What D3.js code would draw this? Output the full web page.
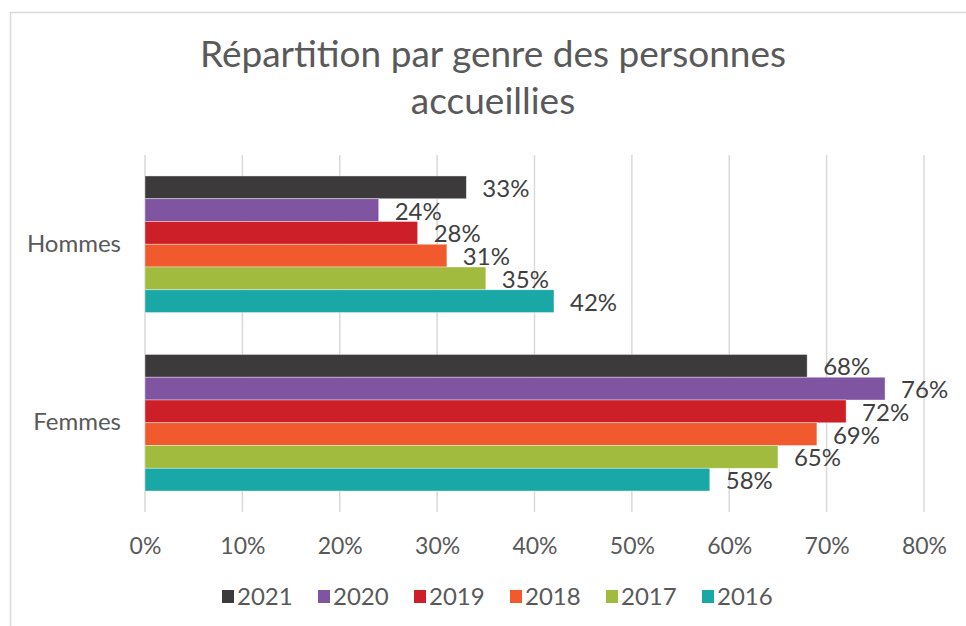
<!DOCTYPE html>
<html>
<head>
<meta charset="utf-8">
<script src="https://cdn.jsdelivr.net/npm/d3@7"></script>
<style>
  body { margin: 0; background: #fff; }
  text { font-family: Lato, "Open Sans", sans-serif; }
</style>
</head>
<body>
<div class="chart"></div>
<script>
// data
var categories = ["Hommes", "Femmes"];
var years = ["2021", "2020", "2019", "2018", "2017", "2016"];
var hommes = [33, 24, 28, 31, 35, 42];
var femmes = [68, 76, 72, 69, 65, 58];
var xTicks = [0, 10, 20, 30, 40, 50, 60, 70, 80];
var colors = ["#3c3a3b", "#7f55a1", "#cc1f27", "#f05a2d", "#a1bb3e", "#1aa8a6"];

var svgWidth = 966;
var svgHeight = 626;

var margin = { top: 155, bottom: 114, left: 145, right: 42 };
var width = svgWidth - margin.left - margin.right;
var height = svgHeight - margin.top - margin.bottom;

var svg = d3.select(".chart")
  .append("svg")
  .attr("width", svgWidth)
  .attr("height", svgHeight);

// chart frame
svg.append("rect")
  .attr("x", 10.5)
  .attr("y", 12.5)
  .attr("width", 1000)
  .attr("height", 700)
  .attr("fill", "none")
  .attr("stroke", "#d9d9d9")
  .attr("stroke-width", 1.5);

// title
var title = svg.append("text")
  .attr("x", 493)
  .attr("text-anchor", "middle")
  .attr("fill", "#595959")
  .attr("font-size", "37px");
title.append("tspan").attr("x", 493).attr("y", 67).text("Répartition par genre des personnes");
title.append("tspan").attr("x", 493).attr("y", 114).text("accueillies");

var chartGroup = svg.append("g")
  .attr("transform", `translate(${margin.left}, ${margin.top})`);

var data = categories.map(function(c, i) {
  var vals = i === 0 ? hommes : femmes;
  return { cat: c, values: years.map(function(y, j) { return { year: y, value: vals[j] }; }) };
});

// scales
var xScale = d3.scaleLinear()
  .domain([0, 80])
  .range([0, width]);

var yScale = d3.scaleBand()
  .domain(categories)
  .range([0, height])
  .paddingInner(0.235)
  .paddingOuter(0.1175);

var ySub = d3.scaleBand()
  .domain(years)
  .range([0, yScale.bandwidth()]);

// gridlines
chartGroup.selectAll(".grid")
  .data(xTicks)
  .enter()
  .append("line")
  .attr("x1", d => xScale(d))
  .attr("x2", d => xScale(d))
  .attr("y1", 0)
  .attr("y2", height)
  .attr("stroke", "#d9d9d9")
  .attr("stroke-width", 1.5);

// x axis
var xAxis = d3.axisBottom(xScale)
  .tickValues(xTicks)
  .tickFormat(d => d + "%")
  .tickSize(0)
  .tickPadding(26);

var xg = chartGroup.append("g")
  .attr("transform", `translate(0, ${height})`)
  .call(xAxis);
xg.select(".domain").remove();
xg.selectAll("text")
  .attr("font-family", "Lato, sans-serif")
  .attr("font-size", "23px")
  .attr("fill", "#595959");

// y axis
var yAxis = d3.axisLeft(yScale).tickSize(0).tickPadding(24);
var yg = chartGroup.append("g").call(yAxis);
yg.select(".domain").remove();
yg.selectAll("text")
  .attr("font-family", "Lato, sans-serif")
  .attr("font-size", "24px")
  .attr("fill", "#595959");

// bars
var groups = chartGroup.selectAll(".cat")
  .data(data)
  .enter()
  .append("g")
  .attr("transform", d => `translate(0, ${yScale(d.cat)})`);

groups.selectAll("rect")
  .data(d => d.values)
  .enter()
  .append("rect")
  .attr("x", 0)
  .attr("y", d => ySub(d.year))
  .attr("width", d => xScale(d.value))
  .attr("height", ySub.bandwidth())
  .attr("fill", (d, i) => colors[i])
  .attr("stroke", "#ffffff")
  .attr("stroke-opacity", 0.5)
  .attr("stroke-width", 0.75);

// value labels
groups.selectAll(".lbl")
  .data(d => d.values)
  .enter()
  .append("text")
  .attr("x", d => xScale(d.value) + 16)
  .attr("y", d => ySub(d.year) + ySub.bandwidth() / 2 + 1)
  .attr("dy", "0.35em")
  .attr("font-size", "24px")
  .attr("fill", "#404040")
  .text(d => d.value + "%");

// legend
var legend = svg.append("g")
  .attr("transform", "translate(222, 597)");

var items = legend.selectAll("g")
  .data(years)
  .enter()
  .append("g")
  .attr("transform", (d, i) => `translate(${i * 96}, 0)`);

items.append("rect")
  .attr("x", 0)
  .attr("y", -7)
  .attr("width", 12)
  .attr("height", 13)
  .attr("fill", (d, i) => colors[i]);

items.append("text")
  .attr("x", 15)
  .attr("y", 0)
  .attr("dy", "0.35em")
  .attr("font-size", "24px")
  .attr("fill", "#595959")
  .text(d => d);
</script>
</body>
</html>
